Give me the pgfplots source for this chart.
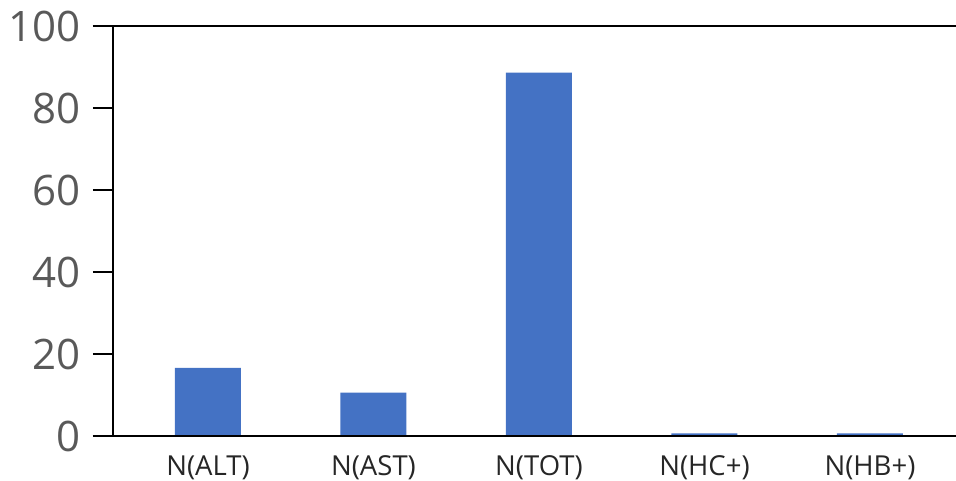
\documentclass[border=0pt]{standalone}
\usepackage{pgfplots}
\pgfplotsset{compat=1.18}
\usepackage{fontspec}
\setmainfont{Open Sans}
\definecolor{barblue}{HTML}{4472C4}
\definecolor{ticktext}{HTML}{595959}
\begin{document}
\begin{tikzpicture}
\begin{axis}[
    name=ax,
    scale only axis,
    width=843pt, height=410pt,
    at={(0,0)}, anchor=south west,
    xmin=-0.574, xmax=4.52,
    ymin=0, ymax=100,
    axis y line*=left,
    axis x line*=bottom,
    x axis line style={draw=none},
    y axis line style={line width=2pt,-},
    xtick={0,...,4},
    xticklabels={N(ALT),N(AST),N(TOT),N(HC+),N(HB+)},
    x tick style={draw=none},
    ytick={0,20,...,100},
    y tick style={line width=2pt,black},
    tick align=outside,
    major tick length=20pt,
    /pgf/number format/assume math mode=true,
    yticklabel style={font=\fontsize{42}{42}\selectfont, text=ticktext, xshift=-9pt},
    xticklabel style={font=\fontsize{27.5}{27.5}\selectfont, text=black!85, yshift=4pt},
    ybar, bar width=66pt, bar shift=0pt,
]
\addplot[draw=none, fill=barblue] coordinates {
    (0,16.6) (1,10.55) (2,88.6) (3,0.66) (4,0.66)
};
\end{axis}
\draw[line width=2pt] ([xshift=-20pt]ax.south west) -- (ax.south east);
\draw[line width=2pt] ([xshift=-20pt]ax.north west) -- (ax.north east);
\pgfresetboundingbox
\path (-113pt,-45pt) rectangle (843pt,436pt);
\end{tikzpicture}
\end{document}
